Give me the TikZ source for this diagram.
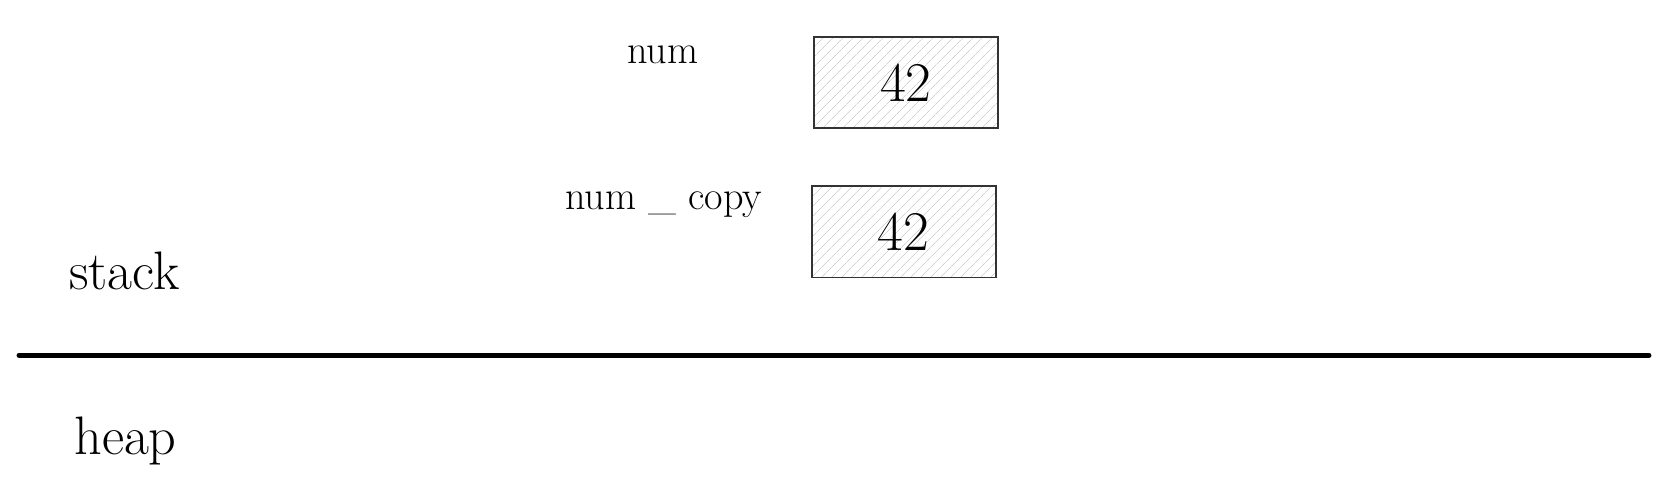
\documentclass[tikz,border=0pt]{standalone}
\usepackage{tikz}
\usetikzlibrary{patterns.meta}

\tikzset{
  cell/.style={draw=black!80, line width=0.9pt, minimum width=3.46cm, minimum height=1.72cm,
    inner sep=0pt, font=\fontsize{30}{34}\selectfont,
    pattern={Lines[angle=45,distance=4pt,line width=0.45pt]}, pattern color=black!18},
  varname/.style={font=\fontsize{21.5}{25}\selectfont},
  region/.style={font=\fontsize{29}{34}\selectfont}
}

\begin{document}
\begin{tikzpicture}[x=0.02cm,y=-0.02cm]
			\useasboundingbox (0,0) rectangle (1568,465.3);
			
			% Cells
			\node[cell] (numcell) at (851.5,77.5) {};
			\node[font=\fontsize{30}{34}\selectfont] (numval) at (numcell) {42};
			\node[cell] (copycell) at (849.5,218) {};
			\node[font=\fontsize{30}{34}\selectfont] (copyval) at (copycell) {42};
			
			% Names
			\node[varname] (num) at (623,52) {num};
			\node[varname] (numcopy) at (624,192) {num \_ copy};
			
			% Regions
			\node[region] (stack) at (117,255) {stack};
			\node[region] (heap) at (118,415) {heap};
			
			% Divider
			\coordinate (divl) at (18,334);
			\coordinate (divr) at (1550,334);
			\draw[line width=2.8pt,line cap=round] (divl) -- (divr);
			
\end{tikzpicture}
\end{document}
